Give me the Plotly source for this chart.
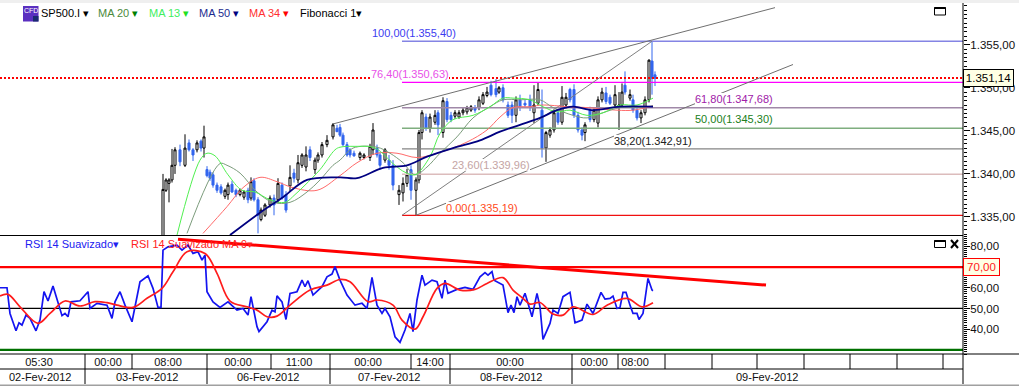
import plotly.graph_objects as go

# ---------- candle data (bar position, OHLC) ----------
bar_pos = [163,166,169,172,175,180,185,189,193,197,201,204,207,210,213,217,221,225,228,232,236,240,244,248,251,254,258,261,265,270,274,278,282,286,290,294,298,302,306,310,315,318,322,327,333,337,340,343,347,350,354,360,364,370,373,377,380,385,389,393,399,403,407,411,416,419,422,426,430,435,438,443,447,451,455,459,463,467,471,475,479,483,487,491,496,499,503,508,512,516,520,525,530,534,538,542,546,550,554,558,562,566,570,574,578,582,585,590,594,598,602,606,610,615,619,622,625,630,633,637,641,645,649,652,655]
opens = [1331.0,1338.1,1338.9,1339.3,1341.0,1342.8,1341.0,1343.6,1342.8,1342.8,1343.8,1343.0,1340.5,1340.2,1339.9,1338.7,1338.5,1337.4,1337.6,1338.8,1338.1,1337.6,1337.3,1338.1,1337.2,1339.2,1337.0,1334.7,1335.2,1336.4,1337.2,1337.0,1338.7,1337.6,1338.6,1340.1,1339.3,1341.0,1340.8,1342.8,1340.5,1341.6,1342.2,1343.4,1344.3,1345.3,1345.4,1344.5,1343.4,1342.8,1342.4,1341.9,1341.9,1341.9,1342.8,1343.0,1342.2,1341.6,1341.6,1341.0,1337.6,1337.8,1338.9,1340.5,1338.1,1339.3,1344.8,1346.6,1345.3,1346.0,1347.1,1344.8,1348.4,1346.8,1346.7,1346.6,1347.1,1347.2,1347.4,1347.7,1347.7,1348.2,1349.1,1350.3,1349.9,1349.5,1350.0,1348.0,1348.0,1346.8,1348.6,1348.2,1348.6,1347.1,1348.2,1347.4,1343.0,1344.5,1345.1,1347.1,1346.0,1348.0,1349.8,1349.8,1346.8,1345.1,1344.8,1347.4,1346.3,1345.9,1348.6,1349.4,1348.9,1348.0,1347.8,1348.0,1350.3,1348.8,1348.6,1347.4,1346.5,1347.1,1348.6,1353.1,1351.5]
highs = [1340.0,1339.5,1339.5,1342.9,1343.1,1343.4,1344.6,1344.0,1343.0,1343.9,1344.0,1345.6,1340.9,1340.5,1340.2,1339.0,1338.8,1338.3,1339.0,1339.2,1338.3,1338.3,1338.1,1338.4,1339.6,1339.5,1337.3,1336.1,1336.6,1337.5,1337.6,1339.5,1339.0,1338.0,1341.0,1340.6,1342.2,1342.4,1343.2,1343.2,1341.9,1342.5,1343.7,1344.5,1345.9,1345.7,1345.8,1344.8,1343.7,1343.0,1342.7,1342.6,1342.4,1343.5,1345.9,1343.4,1342.5,1343.0,1342.2,1341.6,1338.7,1339.6,1340.6,1341.0,1339.6,1345.1,1347.4,1347.0,1347.0,1347.4,1347.4,1348.9,1348.8,1347.2,1347.4,1347.4,1347.7,1347.9,1348.0,1348.0,1349.0,1349.5,1350.1,1350.8,1351.0,1350.2,1350.4,1348.4,1348.4,1349.0,1349.2,1348.6,1349.2,1350.3,1350.6,1349.8,1345.0,1345.4,1347.4,1347.4,1350.2,1349.4,1350.0,1350.4,1347.2,1345.4,1346.0,1347.8,1347.6,1349.0,1350.0,1350.1,1349.2,1350.3,1349.5,1350.5,1351.9,1349.8,1349.2,1347.7,1347.4,1349.0,1353.3,1355.4,1351.9]
lows = [1331.0,1337.9,1336.7,1339.0,1340.0,1340.9,1340.8,1342.6,1341.5,1342.5,1342.6,1341.9,1339.6,1339.2,1338.4,1337.8,1337.6,1337.1,1337.0,1337.8,1337.3,1337.4,1337.0,1336.6,1336.9,1336.8,1333.1,1334.5,1335.0,1336.1,1335.2,1336.6,1337.0,1335.5,1337.9,1339.0,1338.9,1340.7,1340.3,1341.5,1340.0,1341.3,1341.9,1343.1,1344.0,1344.9,1344.3,1343.2,1342.0,1341.9,1342.0,1341.6,1341.7,1341.5,1342.2,1341.9,1340.5,1341.3,1340.5,1338.1,1336.4,1336.8,1338.5,1337.0,1335.2,1338.9,1344.0,1345.0,1344.8,1345.7,1344.5,1344.2,1346.0,1346.0,1346.4,1346.4,1346.8,1346.9,1347.2,1347.1,1347.4,1348.0,1348.9,1349.0,1348.9,1349.3,1348.3,1346.5,1345.9,1346.0,1347.3,1347.7,1347.3,1345.9,1348.0,1341.9,1341.4,1344.2,1344.8,1345.7,1345.7,1347.6,1348.3,1346.5,1344.8,1343.9,1343.8,1346.0,1346.0,1345.4,1348.3,1348.1,1348.0,1347.7,1345.1,1347.7,1349.2,1348.5,1347.1,1346.2,1345.9,1346.8,1348.3,1349.2,1350.2]
closes = [1338.2,1339.3,1339.3,1341.0,1342.8,1341.4,1343.0,1342.8,1342.2,1343.6,1343.0,1344.3,1339.8,1339.5,1338.7,1338.1,1337.8,1338.1,1338.7,1337.9,1337.6,1338.1,1337.9,1337.0,1339.1,1337.0,1335.2,1335.8,1336.4,1337.2,1336.4,1338.9,1337.2,1335.8,1339.6,1339.5,1341.3,1342.2,1342.2,1341.9,1341.6,1342.2,1343.4,1343.9,1345.7,1344.9,1344.5,1343.4,1342.2,1342.2,1342.1,1342.4,1342.2,1343.2,1345.1,1342.2,1341.0,1342.8,1341.0,1338.7,1338.1,1338.9,1339.9,1338.1,1339.3,1344.8,1347.1,1345.3,1346.6,1346.8,1345.7,1348.5,1346.3,1346.3,1347.1,1347.1,1347.4,1347.7,1347.8,1347.4,1348.6,1349.2,1349.5,1349.2,1349.2,1350.0,1348.6,1346.8,1346.8,1348.6,1347.7,1348.0,1347.7,1348.0,1349.8,1343.0,1344.8,1345.1,1347.1,1346.0,1348.9,1348.9,1348.6,1346.8,1345.1,1344.5,1345.7,1346.3,1347.4,1348.6,1349.5,1348.4,1348.2,1349.2,1348.0,1349.5,1349.5,1349.2,1347.4,1346.5,1347.1,1348.6,1353.2,1351.1,1351.1]

# ---------- moving averages ----------
ma13_x = [177,200,207,215,228,242,255,270,285,295,305,320,335,340,355,375,395,405,415,430,440,453,473,490,503,513,530,543,557,570,587,603,620,637,653]
ma13_y = [1332.9,1341.6,1342.4,1342.1,1339.9,1338.1,1337.9,1337.0,1336.7,1337.6,1338.7,1340.5,1342.8,1343.1,1343.2,1343.0,1341.0,1340.2,1339.9,1342.0,1344.7,1346.3,1346.8,1347.8,1348.8,1348.8,1348.6,1347.8,1347.2,1347.4,1346.8,1347.1,1348.0,1348.0,1348.8]
ma20_x = [187,220,227,240,257,273,290,307,320,333,340,353,377,390,403,415,427,440,457,473,490,503,520,540,553,573,587,603,620,637,653]
ma20_y = [1333.1,1341.2,1341.0,1340.1,1337.9,1336.7,1336.7,1337.9,1339.3,1341.0,1341.6,1343.0,1343.1,1342.4,1341.3,1339.9,1340.8,1342.4,1344.3,1346.5,1347.8,1348.6,1348.6,1348.6,1347.7,1346.8,1346.5,1347.1,1347.7,1347.7,1347.9]
ma34_x = [203,227,243,260,277,293,317,340,357,377,397,417,440,467,487,500,513,530,543,567,587,617,633,653]
ma34_y = [1333.1,1336.2,1338.4,1339.6,1339.1,1338.4,1338.1,1339.8,1341.3,1342.4,1342.4,1341.9,1342.5,1343.7,1345.1,1346.6,1347.7,1347.8,1348.0,1347.8,1347.7,1347.4,1347.4,1347.9]
ma50_x = [230,260,283,307,340,357,383,407,427,453,480,500,520,540,557,573,593,620,653]
ma50_y = [1332.9,1335.5,1337.3,1339.3,1339.6,1339.5,1340.7,1341.0,1342.0,1343.0,1343.9,1344.9,1345.7,1346.5,1347.4,1347.8,1347.4,1347.8,1347.8]

# ---------- Fibonacci ----------
fib_levels = [1355.40,1350.63,1347.68,1345.30,1342.91,1339.96,1335.19]
fib_labels = ["100,00(1.355,40)","76,40(1.350,63)","61,80(1.347,68)","50,00(1.345,30)","38,20(1.342,91)","23,60(1.339,96)","0,00(1.335,19)"]
fib_line_colors = ["#8484e4","#ff00ff","#a088a8","#7fae7f","#848484","#dcbcbc","#f01010"]
fib_text_colors = ["#3c3cf0","#e850e8","#a020a8","#208020","#202020","#c4a4a4","#ff4a20"]
fib_text_x = [372,371,695,695,614,452,446]
fib_text_y = [1356.4,1351.6,1348.7,1346.4,1343.8,1341.0,1336.1]

# trend lines: (x0, x1, price0, price1)
channel_upper = ([333,775],[1345.8,1359.3])
channel_lower = ([416,793],[1335.2,1352.7])
fib_diagonal = ([402,652],[1335.2,1355.4])
last_price = 1351.14

# ---------- RSI ----------
rsi_x = [0,7,10,16,19,22,26,30,36,40,44,48,53,58,62,65,68,71,80,88,90,97,107,112,115,120,125,132,140,148,153,158,161,163,168,177,182,188,193,198,202,205,207,213,220,228,237,243,248,251,257,259,267,272,275,277,282,286,290,297,302,305,308,313,322,327,332,335,340,347,355,362,367,372,377,382,385,390,395,400,405,410,413,417,422,425,432,437,442,445,448,457,465,473,480,485,488,492,494,503,508,511,514,517,520,525,532,537,540,543,550,553,558,563,570,575,582,587,593,601,605,610,613,617,620,623,626,630,633,637,639,643,648,652,653]
rsi_y = [60.0,60.0,47.6,39.2,43.1,42.0,46.8,45.2,39.2,44.4,58.1,53.6,60.8,53.2,46.5,47.6,46.0,53.2,53.7,58.1,50.0,52.5,51.6,45.2,53.2,58.1,51.6,43.6,62.9,65.8,59.7,50.5,50.5,78.2,79.8,80.6,78.2,80.6,76.6,77.4,73.4,75.8,58.1,53.2,50.5,53.2,49.2,50.0,46.8,55.7,41.2,38.8,43.6,49.2,48.4,56.1,53.2,44.7,57.3,58.1,63.7,60.5,63.4,56.5,60.5,65.3,66.6,70.2,63.7,56.5,51.6,52.5,50.0,65.0,51.6,47.6,50.0,46.0,36.3,33.6,39.6,47.6,38.8,54.1,66.1,61.3,63.7,62.9,54.9,63.7,57.3,59.2,60.2,59.2,65.3,67.3,66.1,67.8,63.7,61.3,48.0,51.6,48.0,55.7,51.6,57.3,46.0,57.3,50.8,35.1,42.8,49.2,47.6,55.7,57.8,43.1,44.4,52.1,47.6,57.8,54.5,54.9,56.0,50.0,50.5,57.8,57.8,51.6,47.6,47.6,44.7,47.6,64.5,58.9,58.6]
rsi_ma_x = [0,8,20,38,50,65,80,95,107,117,133,147,162,173,187,205,217,230,247,257,267,277,290,310,327,340,350,368,377,393,402,415,423,437,445,460,475,487,503,513,523,530,540,553,563,573,593,607,627,642,653]
rsi_ma_y = [56.0,56.8,50.8,42.8,47.6,53.6,51.2,53.3,52.8,51.6,50.5,54.9,59.7,67.7,77.4,76.6,67.0,53.6,50.8,49.2,46.0,46.3,51.6,58.9,61.3,64.0,62.9,53.3,54.1,51.6,44.4,40.0,46.0,59.7,62.1,58.9,59.2,62.1,64.9,58.9,54.9,52.1,52.9,47.3,46.8,50.8,47.1,51.6,54.9,50.8,52.8]
rsi_trend = ([178,766],[83.5,61.3])
rsi_levels = [70,50,30]

# ---------- time axis ----------
time_tick_pos = [39,108,168,238,299,368,430,510,594,635]
time_tick_txt = ["05:30","00:00","08:00","00:00","11:00","00:00","14:00","00:00","00:00","08:00"]
time_dividers = [85,132,207,271,330,411,450,572,618,665,712,757,804,850,897,943]
date_pos = [40,147,268,389,511,767]
date_txt = ["02-Fev-2012","03-Fev-2012","06-Fev-2012","07-Fev-2012","08-Fev-2012","09-Fev-2012"]
date_dividers = [85,207,330,450,572]

W, H = 1019, 386
PX = 963
FONT = "Liberation Sans"
def fx(p): return p / W
def fy(p): return 1 - p / H

fig = go.Figure()
fig.add_trace(go.Candlestick(x=bar_pos, open=opens, high=highs, low=lows, close=closes, xaxis="x", yaxis="y",
    increasing=dict(line=dict(color="#000000", width=1), fillcolor="#ffffff"),
    decreasing=dict(line=dict(color="#3366ee", width=1), fillcolor="#3366ee"),
    whiskerwidth=0, hoverinfo="skip", showlegend=False))

def line(x, y, color, width, ax="y", shape="linear", dash="solid", opacity=1):
    fig.add_trace(go.Scatter(x=x, y=y, mode="lines", xaxis="x" if ax == "y" else "x2", yaxis=ax,
        line=dict(color=color, width=width, shape=shape, dash=dash), opacity=opacity,
        hoverinfo="skip", showlegend=False))

xfull = [0, PX]
for lv, c in zip(fib_levels, fib_line_colors):
    line([402, PX], [lv, lv], c, 1.3)
line(xfull, [last_price, last_price], "#ff0000", 2, dash="2px,2px")
line(*channel_upper, "#707070", 1)
line(*channel_lower, "#707070", 1)
line(*fib_diagonal, "#808080", 1)
line(ma34_x, ma34_y, "#ff6a6a", 1, shape="spline")
line(ma20_x, ma20_y, "#7c9c7c", 1, shape="spline")
line(ma13_x, ma13_y, "#50f050", 1, shape="spline")
line(ma50_x, ma50_y, "#000080", 1.8, shape="spline")

line(xfull, [rsi_levels[0]]*2, "#ff0000", 2.4, ax="y2")
line(xfull, [rsi_levels[1]]*2, "#000000", 1.2, ax="y2")
line(xfull, [rsi_levels[2]]*2, "#007000", 2.4, ax="y2")
line(rsi_x, rsi_y, "#1414f0", 1.7, ax="y2")
line(rsi_ma_x, rsi_ma_y, "#ff1c1c", 1.7, ax="y2", shape="spline")
line(*rsi_trend, "#ff0000", 3, ax="y2")

ann = []
for t, c, x, y in zip(fib_labels, fib_text_colors, fib_text_x, fib_text_y):
    ann.append(dict(text=t, x=x, y=y, xref="x", yref="y", xanchor="left", yanchor="middle", showarrow=False,
                    font=dict(color=c, size=11, family=FONT), bgcolor="#ffffff", borderpad=0, borderwidth=0))

def paper_text(t, px, py, color="#000000", size=11, anchor="left", **kw):
    ann.append(dict(text=t, x=fx(px), y=fy(py), xref="paper", yref="paper", xanchor=anchor, yanchor="middle",
                    showarrow=False, font=dict(color=color, size=size, family=FONT), borderpad=0, **kw))

paper_text("SP500.I ▾", 40, 13)
paper_text("MA 20 <span style='color:#008000'>▾</span>", 97, 13, "#4c8a3c")
paper_text("MA 13 <span style='color:#20e020'>▾</span>", 148, 13, "#40ee60")
paper_text("MA 50 <span style='color:#000080'>▾</span>", 198, 13, "#1c2c90")
paper_text("MA 34 <span style='color:#ff0000'>▾</span>", 248, 13, "#ff3030")
paper_text("Fibonacci 1▾", 299, 13)
paper_text("RSI 14 Suavizado▾", 24, 244, "#2020f0")
paper_text("RSI 14 Suavizado MA 9▾", 130, 244, "#ff2020")
paper_text("CFD", 30.5, 11, "#ffffff", 7, anchor="center")

# value tags
ann.append(dict(text="1.351,14", x=fx(PX), y=last_price, xref="paper", yref="y", xanchor="left", yanchor="middle", showarrow=False,
                font=dict(color="#000000", size=11.5, family=FONT), bgcolor="#ffffe4", bordercolor="#000000", borderwidth=1, borderpad=1, width=47, height=14))
ann.append(dict(text="70,00", x=fx(PX), y=70, xref="paper", yref="y2", xanchor="left", yanchor="middle", showarrow=False,
                font=dict(color="#ff2020", size=11.5, family=FONT), bgcolor="#ffffe4", bordercolor="#ff0000", borderwidth=1, borderpad=1, width=33, height=14))

for p, t in zip(date_pos, date_txt):
    ann.append(dict(text=t, x=p, y=fy(377), xref="x2", yref="paper", xanchor="center", yanchor="middle", showarrow=False,
                    font=dict(color="#101010", size=11, family=FONT)))

shapes = []
def seg(x0, y0, x1, y1, color="#000000", w=1):
    shapes.append(dict(type="line", xref="paper", yref="paper", x0=fx(x0), y0=fy(y0), x1=fx(x1), y1=fy(y1),
                       line=dict(color=color, width=w), layer="above"))
def rect(x0, y0, x1, y1, fill, color=None, w=0):
    shapes.append(dict(type="rect", xref="paper", yref="paper", x0=fx(x0), y0=fy(y0), x1=fx(x1), y1=fy(y1),
                       fillcolor=fill, line=dict(color=color or fill, width=w), layer="above"))

rect(0, 0, W, 3, "#efefef")
rect(0, 384.5, W, 386, "#a0a0a0")
seg(0, 369, PX, 369)
seg(PX, 3, PX, 384)
seg(0, 354, W, 354)
for d in time_dividers:
    seg(d, 354, d, 369)
for d in date_dividers:
    seg(d, 369, d, 384)
# icon
rect(23, 6, 38.5, 21.5, "#5a2fc0")
rect(33, 16, 38.5, 21.5, "#1a2a70")
# window buttons
rect(934.5, 7.5, 945.5, 15, "rgba(0,0,0,0)", "#000000", 1)
seg(934.5, 8, 945.5, 8, w=2)
rect(934.5, 240.5, 945.5, 247.5, "rgba(0,0,0,0)", "#000000", 1)
seg(934.5, 241, 945.5, 241, w=2)
seg(951, 240, 958, 248, w=2)
seg(958, 240, 951, 248, w=2)

fig.update_layout(
    width=W, height=H, autosize=False, margin=dict(l=0, r=0, t=0, b=0),
    paper_bgcolor="#ffffff", plot_bgcolor="#ffffff", separators=",.",
    showlegend=False, annotations=ann, shapes=shapes, boxgap=0.02,
    font=dict(family=FONT, size=11, color="#101010"),
    xaxis=dict(domain=[0, fx(PX)], range=[0, PX], anchor="y", showgrid=False, zeroline=False,
               showticklabels=False, ticks="", rangeslider=dict(visible=False),
               showline=True, linecolor="#000000", linewidth=1),
    xaxis2=dict(domain=[0, fx(PX)], range=[0, PX], anchor="y2", showgrid=False, zeroline=False, ticks="",
                tickmode="array", tickvals=time_tick_pos, ticktext=time_tick_txt, ticklabelstandoff=0,
                tickfont=dict(size=11, family=FONT, color="#101010"), showline=False),
    yaxis=dict(domain=[fy(235), fy(3)], range=[1332.91, 1359.84], side="right", anchor="x", showgrid=False, zeroline=False,
               tickmode="linear", tick0=1335, dtick=5, tickformat=",.2f", ticks="outside", ticklen=6, tickcolor="#000000",
               ticklabelstandoff=-2, tickfont=dict(size=11.5, family=FONT, color="#101010"),
               minor=dict(ticks="outside", ticklen=3, dtick=0.5, tick0=1335, tickcolor="#000000"), showline=False),
    yaxis2=dict(domain=[fy(354), fy(235)], range=[28.0, 85.5], side="right", anchor="x2", showgrid=False, zeroline=False,
                tickmode="array", tickvals=[40, 50, 60, 70, 80], ticktext=["40,00","50,00","60,00","","80,00"], ticks="outside", ticklen=6, tickcolor="#000000",
                ticklabelstandoff=-2, tickfont=dict(size=11.5, family=FONT, color="#101010"),
                minor=dict(ticks="outside", ticklen=3, dtick=1, tick0=30, tickcolor="#000000"), showline=False),
)

fig.write_html("out.html", config=dict(displayModeBar=False), post_script="document.body.style.margin='0';document.body.style.overflow='hidden';")
